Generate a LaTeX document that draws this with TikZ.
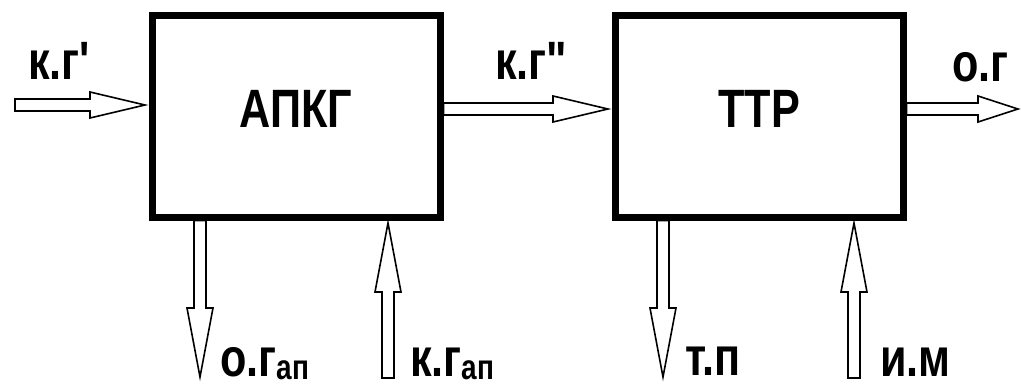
\documentclass[tikz,border=0pt]{standalone}
\usepackage{fontspec}
\usepackage{tikz}
\usetikzlibrary{calc}
\newfontfamily\lblfont[FakeStretch=0.8,Ligatures=TeXOff]{Liberation Sans}
\newcommand{\lowidx}[1]{\raisebox{-3pt}{\fontsize{35}{40}\selectfont #1}}
\tikzset{
  box/.style={draw, line width=7pt, minimum width=288pt, minimum height=202pt, inner sep=0pt, text depth=14pt, font=\lblfont\bfseries\fontsize{54}{60}\selectfont},
  lbl/.style={inner sep=0pt, anchor=base west, font=\lblfont\bfseries\fontsize{54}{60}\selectfont},
  flow/.style={line width=1.6pt, line join=miter, to path={
    ($(\tikztostart)!6pt!90:(\tikztotarget)$)
    -- ($(\tikztotarget)!#1!(\tikztostart)!6pt!90:(\tikztotarget)$)
    -- ($(\tikztotarget)!#1!(\tikztostart)!13pt!90:(\tikztotarget)$)
    -- (\tikztotarget)
    -- ($(\tikztotarget)!#1!(\tikztostart)!13pt!-90:(\tikztotarget)$)
    -- ($(\tikztotarget)!#1!(\tikztostart)!6pt!-90:(\tikztotarget)$)
    -- ($(\tikztostart)!6pt!-90:(\tikztotarget)$) -- cycle}},
  flow/.default=55pt
}
\begin{document}
\begin{tikzpicture}[x=1pt,y=-1pt]
\useasboundingbox (0,0) rectangle (1021,386);
\node [box] (apkg) at (296,116) {АПКГ};
\node [box] (ttr) at (759,116) {ТТР};
\coordinate (kg1s) at (15,105);
\coordinate (kg1e) at (145,105);
\coordinate (kg2s) at (apkg.east |- 0,109);
\coordinate (kg2e) at (608,109);
\coordinate (ogs) at (ttr.east |- 0,109);
\coordinate (oge) at (1018,109);
\coordinate (ogap) at (200,377);
\coordinate (kgap) at (388,378);
\coordinate (kgapin) at (388,223);
\coordinate (tp) at (663,377);
\coordinate (im) at (854,378);
\coordinate (imin) at (854,223);
\draw [flow] (kg1s) to (kg1e);
\draw [flow] (kg2s) to (kg2e);
\draw [flow=40pt] (ogs) to (oge);
\draw [flow=69pt] (apkg.south -| ogap) to (ogap);
\draw [flow=69pt] (kgap) to (kgapin);
\draw [flow=69pt] (ttr.south -| tp) to (tp);
\draw [flow=69pt] (im) to (imin);
\node [lbl] (lkg1) at (28,79) {к.г'};
\node [lbl] (lkg2) at (495,79) {к.г"};
\node [lbl] (log) at (952,81) {о.г};
\node [lbl] (logap) at (220,376) {о.г\lowidx{ап}};
\node [lbl] (lkgap) at (410,376) {к.г\lowidx{ап}};
\node [lbl] (ltp) at (685,375) {т.п};
\node [lbl] (lim) at (880,376) {и.м};
\end{tikzpicture}
\end{document}
